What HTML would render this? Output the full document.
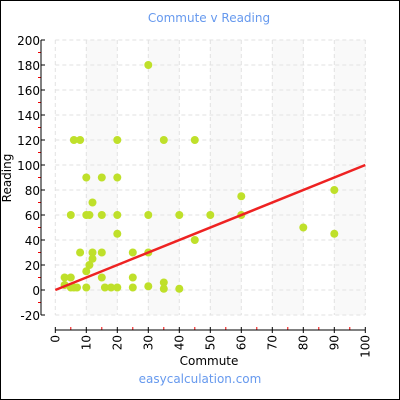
<!DOCTYPE html>
<html><head><meta charset="utf-8"><style>
body{margin:0;background:#fff}
svg{display:block;font-family:"DejaVu Sans","Liberation Sans",sans-serif}
</style></head><body>
<svg id="c" width="400" height="400">
<rect x="0.5" y="0.5" width="399" height="399" fill="#fff" stroke="#000"/>
<text x="209" y="22" text-anchor="middle" font-size="12" fill="#6699ee">Commute v Reading</text>
<g id="grid"></g>
<g id="axes"></g>
<g id="pts"></g>
<g id="trend"></g>
<text x="209" y="365" text-anchor="middle" font-size="12" fill="#000">Commute</text>
<text transform="translate(11,178) rotate(-90)" text-anchor="middle" font-size="12" fill="#000">Reading</text>
<text x="200" y="383" text-anchor="middle" font-size="12" fill="#6699ee">easycalculation.com</text>
</svg>
<script>
const commute=[30,6,8,20,35,45,12,5,10,11,15,20,30,40,50,60,20,45,8,12,15,25,30,12,11,10,3,5,15,25,3,35,5,6,7,10,16,18,20,25,30,35,40,60,90,80,90,10,15,20];
const reading=[180,120,120,120,120,120,70,60,60,60,60,60,60,60,60,60,45,40,30,30,30,30,30,25,20,15,10,10,10,10,4,6,2,2,2,2,2,2,2,2,3,1,1,75,80,50,45,90,90,90];
const trendStart=[0,0];
const trendEnd=[100,100];
const xTicks=[0,10,20,30,40,50,60,70,80,90,100];
const yTicks=[-20,0,20,40,60,80,100,120,140,160,180,200];
const NS="http://www.w3.org/2000/svg";
const sx=v=>55.3+v*3.1;
const sy=v=>290-v*1.25;
function mk(t,a,p){const e=document.createElementNS(NS,t);for(const k in a)e.setAttribute(k,a[k]);p.appendChild(e);return e;}
const grid=document.getElementById('grid'),axes=document.getElementById('axes');
for(let i=0;i<xTicks.length-1;i++){if(i%2==1){const r=mk('rect',{x:sx(xTicks[i]),y:sy(200),width:sx(xTicks[i+1])-sx(xTicks[i]),height:sy(-20)-sy(200),fill:'#f9f9f9'},grid);

}}
xTicks.forEach(v=>{const l=mk('line',{x1:sx(v),x2:sx(v),y1:sy(200),y2:sy(-20),stroke:'#e2e2e2','stroke-dasharray':'4,3'},grid);


const t=mk('line',{x1:sx(v),x2:sx(v),y1:327,y2:333,stroke:'#000'},axes);


if(v<100){const m=mk('line',{x1:sx(v+5),x2:sx(v+5),y1:327,y2:330,stroke:'#e00'},axes);

}
const tx=mk('text',{transform:`translate(${sx(v)+4},335) rotate(-90)`,'text-anchor':'end','font-size':'12',fill:'#000'},axes);tx.textContent=v;

});
yTicks.forEach(v=>{const l=mk('line',{x1:sx(0),x2:sx(100),y1:sy(v),y2:sy(v),stroke:'#e2e2e2','stroke-dasharray':'4,3'},grid);


const t=mk('line',{x1:41,x2:45,y1:sy(v),y2:sy(v),stroke:'#000'},axes);


if(v<200){const m=mk('line',{x1:38,x2:41,y1:sy(v+10),y2:sy(v+10),stroke:'#e00'},axes);

}
const tx=mk('text',{x:40,y:sy(v)+5,'text-anchor':'end','font-size':'12',fill:'#000'},axes);tx.textContent=v;

});
const ya=mk('line',{x1:41,x2:41,y1:sy(200),y2:sy(-20),stroke:'#000'},axes);


const xa=mk('line',{x1:sx(0),x2:sx(100),y1:330,y2:330,stroke:'#000'},axes);


const pts=document.getElementById('pts');
commute.forEach((c,i)=>{const p=mk('circle',{cx:sx(c),cy:sy(reading[i]),r:4,fill:'#bfe02a'},pts);

});
const tl=mk('line',{x1:sx(trendStart[0]),y1:sy(trendStart[1]),x2:sx(trendEnd[0]),y2:sy(trendEnd[1]),stroke:'#ee2222','stroke-width':2.5},document.getElementById('trend'));


</script>
</body></html>
